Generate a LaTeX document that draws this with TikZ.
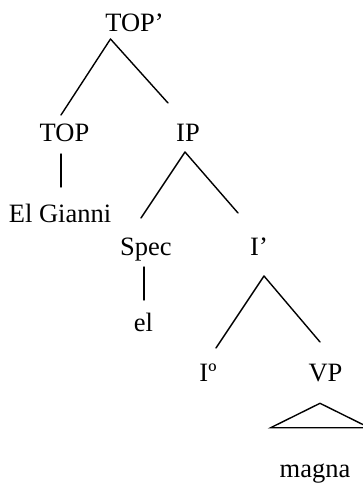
\documentclass[tikz,border=0pt]{standalone}
\usepackage{fontspec}
\setmainfont{Liberation Serif}
\begin{document}
\begin{tikzpicture}[x=1pt,y=-1pt,
  lbl/.style={anchor=base,inner sep=0pt,font=\fontsize{26.5}{30}\selectfont},
  branch/.style={line width=1.4pt,line cap=round}]
\useasboundingbox (0,0) rectangle (363,484);
% category labels and words
\node[lbl] (topbar) at (134.5,32) {TOP’};
\node[lbl] (top)    at (64.5,141) {TOP};
\node[lbl] (ip)     at (188,141) {IP};
\node[lbl] (gianni) at (60,222.7) {El Gianni};
\node[lbl] (spec)   at (146,255) {Spec};
\node[lbl] (ibar)   at (259,255) {I’};
\node[lbl] (el)     at (143.5,331) {el};
\node[lbl] (izero)  at (208,381) {Iº};
\node[lbl] (vp)     at (325.5,381) {VP};
\node[lbl] (magna)  at (315,477) {magna};
% attachment points of the branches
\coordinate (topbar-d) at (110.5,39);
\coordinate (top-u)    at (61,115);
\coordinate (top-d)    at (61,154);
\coordinate (ip-u)     at (168,103);
\coordinate (ip-d)     at (185,152);
\coordinate (gianni-u) at (61,187);
\coordinate (spec-u)   at (141,218);
\coordinate (spec-d)   at (144,267);
\coordinate (ibar-u)   at (238,213);
\coordinate (ibar-d)   at (264,276);
\coordinate (el-u)     at (144,300);
\coordinate (izero-u)  at (216,348);
\coordinate (vp-u)     at (320,342);
\coordinate (vp-d)     at (320,403.3);
% branches
\draw[branch] (topbar-d) -- (top-u);
\draw[branch] (topbar-d) -- (ip-u);
\draw[branch] (top-d) -- (gianni-u);
\draw[branch] (ip-d) -- (spec-u);
\draw[branch] (ip-d) -- (ibar-u);
\draw[branch] (spec-d) -- (el-u);
\draw[branch] (ibar-d) -- (izero-u);
\draw[branch] (ibar-d) -- (vp-u);
% roof over the VP material
\draw[branch,line join=miter] (vp-d) -- (270.7,427.7) -- (369.3,427.7) -- cycle;
\end{tikzpicture}
\end{document}
